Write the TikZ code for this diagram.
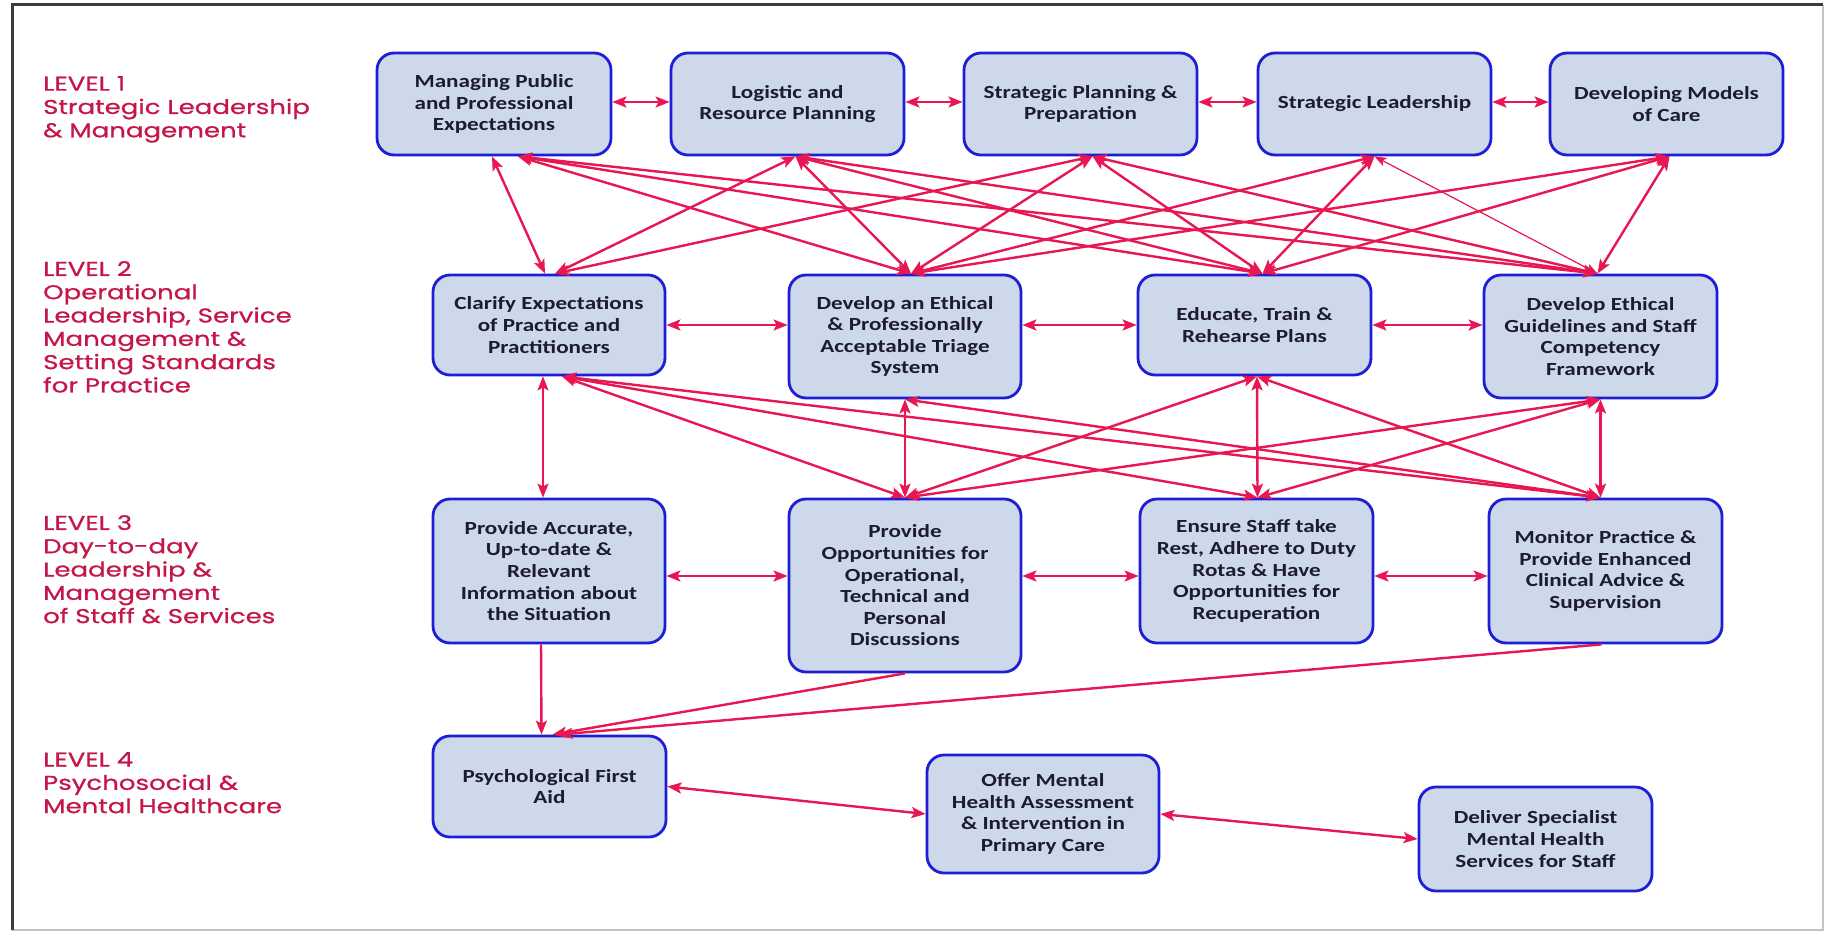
\documentclass[tikz,border=0pt]{standalone}
\usepackage{fontspec}
\usetikzlibrary{arrows.meta}
\newfontfamily\boxfont{Carlito}[FakeStretch=1.25]
\newfontfamily\lvlfont{Poppins}[FakeStretch=1.3,FakeBold=0.8]
\definecolor{boxfill}{RGB}{205,217,234}
\definecolor{boxdraw}{RGB}{30,30,215}
\definecolor{arrowc}{RGB}{232,22,82}
\definecolor{lvlc}{RGB}{196,22,72}
\definecolor{txtc}{RGB}{28,28,45}
\definecolor{framedark}{RGB}{60,60,60}
\definecolor{framelight}{RGB}{195,195,195}
\begin{document}
\begin{tikzpicture}[x=1pt,y=-1pt,
 box/.style={draw=boxdraw, fill=boxfill, line width=2.8pt, rounded corners=17pt, align=center, inner sep=0pt,
   font=\boxfont\bfseries\fontsize{18.5}{21.6}\selectfont, text=txtc},
 lvl/.style={anchor=north west, align=left, inner sep=0pt, font=\lvlfont\fontsize{20}{23.3}\selectfont, text=lvlc},
 link/.style={draw=arrowc, line width=2.4pt, {Stealth[length=14pt,width=11pt,inset=3pt]}-{Stealth[length=14pt,width=11pt,inset=3pt]}},
 thinlink/.style={draw=arrowc, line width=1.2pt, {Stealth[length=12pt,width=9pt,inset=3pt]}-{Stealth[length=12pt,width=9pt,inset=3pt]}},
 tolink/.style={draw=arrowc, line width=2.4pt, -{Stealth[length=14pt,width=11pt,inset=3pt]}}
]
\useasboundingbox (0,0) rectangle (1830,936);
\fill[white] (0,0) rectangle (1830,936);
\draw[framelight, line width=2pt] (1823,5) -- (1823,930) -- (12,930);
\draw[framedark, line width=3pt] (12,930) -- (12,5) -- (1823,5);

% level labels
\node[lvl] (lv1) at (43,76) {LEVEL 1\\Strategic Leadership\\\& Management};
\node[lvl] (lv2) at (43,261) {LEVEL 2\\Operational\\Leadership, Service\\Management \&\\Setting Standards\\for Practice};
\node[lvl] (lv3) at (43,515) {LEVEL 3\\Day-to-day\\Leadership \&\\Management\\of Staff \& Services};
\node[lvl] (lv4) at (43,752) {LEVEL 4\\Psychosocial \&\\Mental Healthcare};

% level 1
\node[box, minimum width=234pt, minimum height=102pt] (mppe) at (494,104) {Managing Public\\and Professional\\Expectations};
\node[box, minimum width=233pt, minimum height=102pt] (logi) at (787.5,104) {Logistic and\\Resource Planning};
\node[box, minimum width=233pt, minimum height=102pt] (stpl) at (1080.5,104) {Strategic Planning \&\\Preparation};
\node[box, minimum width=233pt, minimum height=102pt] (stle) at (1374.5,104) {Strategic Leadership};
\node[box, minimum width=233pt, minimum height=102pt] (demo) at (1666.5,104) {Developing Models\\of Care};

% level 2
\node[box, minimum width=232pt, minimum height=100pt] (clar) at (549,325) {Clarify Expectations\\of Practice and\\Practitioners};
\node[box, minimum width=232pt, minimum height=123pt] (tria) at (905,336.5) {Develop an Ethical\\\& Professionally\\Acceptable Triage\\System};
\node[box, minimum width=233pt, minimum height=100pt] (educ) at (1254.5,325) {Educate, Train \&\\Rehearse Plans};
\node[box, minimum width=233pt, minimum height=123pt] (deve) at (1600.5,336.5) {Develop Ethical\\Guidelines and Staff\\Competency\\Framework};

% level 3
\node[box, minimum width=232pt, minimum height=144pt] (prac) at (549,571) {Provide Accurate,\\Up-to-date \&\\Relevant\\Information about\\the Situation};
\node[box, minimum width=232pt, minimum height=173pt] (popp) at (905,585.5) {Provide\\Opportunities for\\Operational,\\Technical and\\Personal\\Discussions};
\node[box, minimum width=233pt, minimum height=144pt] (ensu) at (1256.5,571) {Ensure Staff take\\Rest, Adhere to Duty\\Rotas \& Have\\Opportunities for\\Recuperation};
\node[box, minimum width=233pt, minimum height=144pt] (moni) at (1605.5,571) {Monitor Practice \&\\Provide Enhanced\\Clinical Advice \&\\Supervision};

% level 4
\node[box, minimum width=233pt, minimum height=101pt] (pfa) at (549.5,786.5) {Psychological First\\Aid};
\node[box, minimum width=232pt, minimum height=118pt] (offe) at (1043,814) {Offer Mental\\Health Assessment\\\& Intervention in\\Primary Care};
\node[box, minimum width=233pt, minimum height=104pt] (deli) at (1535.5,839) {Deliver Specialist\\Mental Health\\Services for Staff};

% level 1 horizontal links
\draw[link] ([yshift=2pt]mppe.east) -- ([yshift=2pt]logi.west);
\draw[link] ([yshift=2pt]logi.east) -- ([yshift=2pt]stpl.west);
\draw[link] ([yshift=2pt]stpl.east) -- ([yshift=2pt]stle.west);
\draw[link] ([yshift=2pt]stle.east) -- ([yshift=2pt]demo.west);

% level 1 - level 2
\draw[link] ([xshift=-2pt]mppe.south) -- ([xshift=-4pt]clar.north);
\draw[link] ([xshift=24pt]mppe.south) -- ([xshift=6pt]tria.north);
\draw[link] ([xshift=24pt]mppe.south) -- ([xshift=8pt]educ.north);
\draw[link] ([xshift=24pt]mppe.south) -- ([xshift=-3pt]deve.north);
\draw[link] ([xshift=8pt]logi.south) -- ([xshift=6pt]clar.north);
\draw[link] ([xshift=8pt]logi.south) -- ([xshift=6pt]tria.north);
\draw[link] ([xshift=8pt]logi.south) -- ([xshift=8pt]educ.north);
\draw[link] ([xshift=8pt]logi.south) -- ([xshift=-3pt]deve.north);
\draw[link] ([xshift=12pt]stpl.south) -- ([xshift=6pt]clar.north);
\draw[link] ([xshift=12pt]stpl.south) -- ([xshift=6pt]tria.north);
\draw[link] ([xshift=12pt]stpl.south) -- ([xshift=8pt]educ.north);
\draw[link] ([xshift=12pt]stpl.south) -- ([xshift=-3pt]deve.north);
\draw[link] (stle.south) -- ([xshift=6pt]tria.north);
\draw[link] (stle.south) -- ([xshift=8pt]educ.north);
\draw[thinlink] (stle.south) -- ([xshift=-3pt]deve.north);
\draw[link] ([xshift=3pt]demo.south) -- ([xshift=6pt]tria.north);
\draw[link] ([xshift=3pt]demo.south) -- ([xshift=8pt]educ.north);
\draw[link] ([xshift=3pt]demo.south) -- ([xshift=-3pt]deve.north);

% level 2 horizontal links
\draw[link] (clar.east) -- (clar.east -| tria.west);
\draw[link] (educ.west -| tria.east) -- (educ.west);
\draw[link] (educ.east) -- (educ.east -| deve.west);

% level 2 - level 3
\draw[link] ([xshift=-6pt]clar.south) -- ([xshift=-6pt]prac.north);
\draw[link] ([xshift=13pt]clar.south) -- (popp.north);
\draw[link] ([xshift=13pt]clar.south) -- ([xshift=1pt]ensu.north);
\draw[link] ([xshift=13pt]clar.south) -- ([xshift=-5pt]moni.north);
\draw[link] (tria.south) -- (popp.north);
\draw[link] (tria.south) -- ([xshift=-5pt]moni.north);
\draw[link] ([xshift=2.5pt]educ.south) -- (popp.north);
\draw[link] ([xshift=2.5pt]educ.south) -- ([xshift=1pt]ensu.north);
\draw[link] ([xshift=2.5pt]educ.south) -- ([xshift=-5pt]moni.north);
\draw[link] (deve.south) -- (popp.north);
\draw[link] (deve.south) -- ([xshift=1pt]ensu.north);
\draw[link] (deve.south) -- ([xshift=-5pt]moni.north);

% level 3 horizontal links
\draw[link] ([yshift=-5pt]prac.east) -- ([yshift=-5pt]prac.east -| popp.west);
\draw[link] ([yshift=-5pt]ensu.west -| popp.east) -- ([yshift=-5pt]ensu.west);
\draw[link] ([yshift=-5pt]ensu.east) -- ([yshift=-5pt]ensu.east -| moni.west);

% level 3 - level 4
\draw[tolink] ([xshift=-8pt]prac.south) -- ([xshift=-8pt]pfa.north);
\draw[tolink] (popp.south) -- ([xshift=3pt]pfa.north);
\draw[tolink] ([xshift=-4pt]moni.south) -- ([xshift=9pt]pfa.north);

% level 4 links
\draw[link] (pfa.east) -- (offe.west);
\draw[link] (offe.east) -- (deli.west);
\end{tikzpicture}
\end{document}
